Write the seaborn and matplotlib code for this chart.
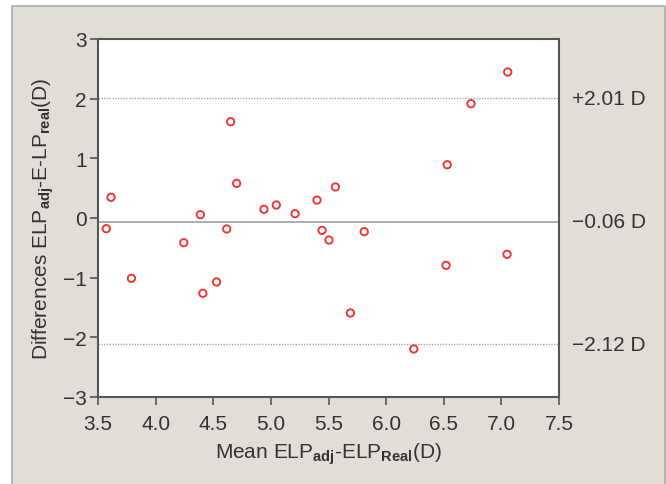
import matplotlib
matplotlib.use("Agg")
import matplotlib.pyplot as plt
import matplotlib.transforms as mtransforms
from matplotlib.patches import Rectangle
import seaborn as sns
import pandas as pd

# ---- data ----
mean_vals = [3.613, 4.651, 4.703, 4.388, 4.940, 5.047, 5.210, 5.400, 5.560,
             7.055, 6.736, 6.530,
             3.572, 4.244, 4.617, 3.790, 4.410, 4.529, 5.444, 5.504,
             5.810, 5.690, 6.520, 7.049, 6.240]
diff_vals = [0.347, 1.614, 0.580, 0.055, 0.146, 0.218, 0.072, 0.300, 0.520,
             2.447, 1.916, 0.893,
             -0.179, -0.414, -0.184, -1.011, -1.262, -1.073, -0.207, -0.369,
             -0.229, -1.592, -0.793, -0.609, -2.195]
mean_diff = -0.06
upper_loa = 2.01
lower_loa = -2.12
loa_labels = ["+2.01 D", "\u22120.06 D", "\u22122.12 D"]
x_ticks = [3.5, 4.0, 4.5, 5.0, 5.5, 6.0, 6.5, 7.0, 7.5]
y_ticks = [-3, -2, -1, 0, 1, 2, 3]

df = pd.DataFrame({"mean": mean_vals, "diff": diff_vals})

sns.set_theme(style="white")
plt.rcParams["font.family"] = ["Liberation Sans", "DejaVu Sans"]
plt.rcParams["mathtext.fontset"] = "custom"
plt.rcParams["mathtext.rm"] = "Liberation Sans"
plt.rcParams["mathtext.bf"] = "Liberation Sans:bold"
plt.rcParams["mathtext.default"] = "regular"

text_color = "#333333"
bg = "#e2ddd6"
fs = 15

fig = plt.figure(figsize=(6.66, 4.85), dpi=100)
fig.patch.set_facecolor("white")
# beige panel with thin gray border
panel = Rectangle((12 / 666, -0.02), (665 - 12) / 666, 1.02 - 7 / 485,
                  transform=fig.transFigure, facecolor=bg,
                  edgecolor="#a9a9a9", linewidth=1.2, zorder=-10)
fig.patches.append(panel)

ax = fig.add_axes([98 / 666, 1 - 398 / 485, (559 - 98) / 666, (398 - 40) / 485])
ax.set_facecolor("white")

ax.axhline(mean_diff, color="#a0a0a0", lw=1.2, zorder=1)
ax.axhline(upper_loa, color="#a8a8a8", lw=1.0, ls=(0, (1, 1)), zorder=1)
ax.axhline(lower_loa, color="#a8a8a8", lw=1.0, ls=(0, (1, 1)), zorder=1)

sns.scatterplot(data=df, x="mean", y="diff", ax=ax, marker="o", s=28,
                facecolor="none", edgecolor="#ee3a35", linewidth=1.4,
                zorder=3, legend=False)

ax.set_xlim(3.5, 7.5)
ax.set_ylim(-3, 3)
ax.set_xticks(x_ticks)
ax.set_xticklabels([f"{t:.1f}" for t in x_ticks])
ax.set_yticks(y_ticks)
ax.set_yticklabels([("\u2212" + str(abs(t))) if t < 0 else str(t) for t in y_ticks])

for s in ax.spines.values():
    s.set_color("#555555")
    s.set_linewidth(1.5)
    s.set_visible(True)

ax.tick_params(axis="both", which="major", direction="out", length=6, width=1.2,
               color="#555555", labelsize=fs, labelcolor=text_color,
               bottom=True, left=True)
ax.tick_params(axis="x", pad=6)
ax.tick_params(axis="y", pad=2)

ax.set_xlabel("Mean ELP$_{\\mathbf{adj}}$-ELP$_{\\mathbf{Real}}$(D)",
              fontsize=fs, color=text_color, labelpad=6)
ax.set_ylabel("Differences ELP$_{\\mathbf{adj}}$-E-LP$_{\\mathbf{real}}$(D)",
              fontsize=fs, color=text_color, labelpad=5)

trans = mtransforms.blended_transform_factory(ax.transAxes, ax.transData)
for yv, lab in zip([upper_loa, mean_diff, lower_loa], loa_labels):
    ax.text(1.028, yv, lab, transform=trans, ha="left", va="center",
            fontsize=fs, color=text_color, clip_on=False)

fig.savefig("out.png", dpi=100, facecolor=fig.get_facecolor())
